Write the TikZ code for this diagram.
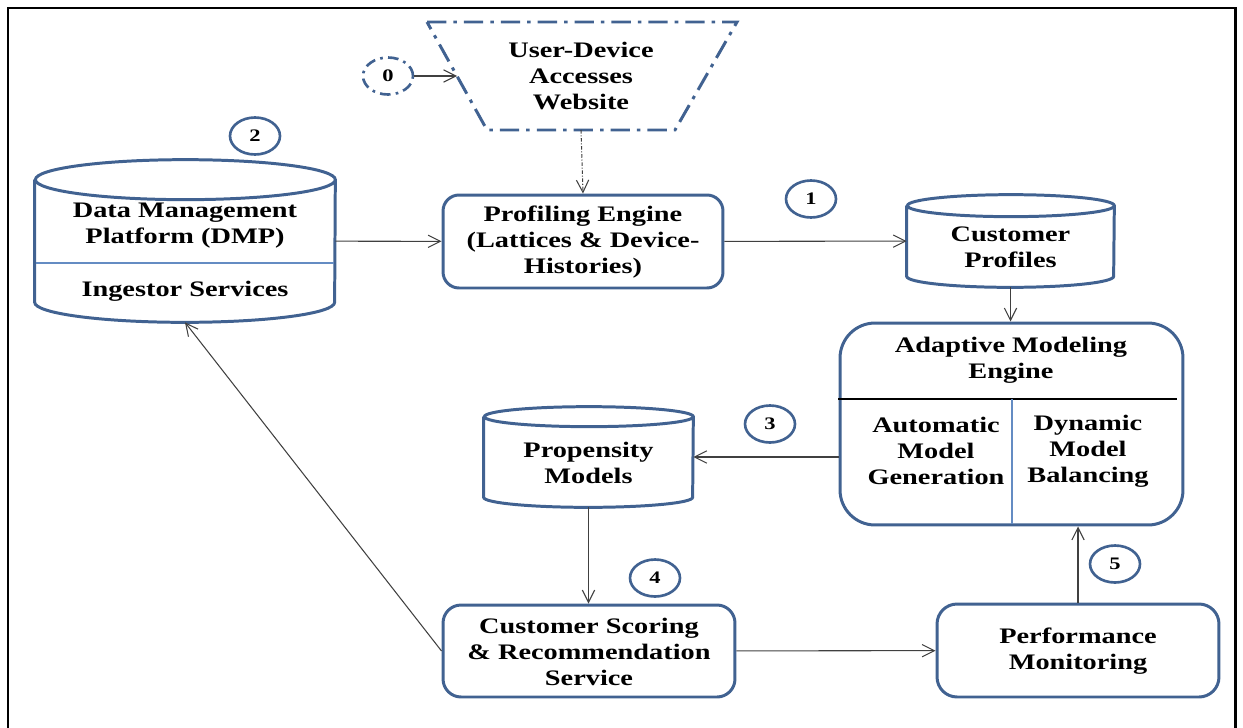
\documentclass[tikz,border=0pt]{standalone}
\usepackage{fontspec}
\setmainfont[FakeStretch=1.28]{Liberation Serif}
\usetikzlibrary{shapes.geometric,arrows.meta,positioning}

\definecolor{boxblue}{RGB}{65,98,145}
\definecolor{lineblue}{RGB}{100,140,195}

\tikzset{
  txt/.style={align=center, inner sep=0pt, font=\fontsize{12.6}{14.8}\selectfont\bfseries},
  box/.style={draw=boxblue, line width=1.7pt, rounded corners=0.32cm},
  store/.style={rectangle, inner sep=0pt},
  drumline/.style={draw=boxblue, line width=1.7pt},
  num/.style={ellipse, draw=boxblue, line width=1.5pt, minimum width=1cm, minimum height=0.74cm,
    inner sep=0pt, font=\fontsize{10}{12}\selectfont\bfseries},
  flow/.style={-{Straight Barb[length=7pt,width=7pt]}, draw=black!75, line width=0.6pt},
  dashdot/.style={dash pattern=on 11pt off 4pt on 2pt off 4pt}
}

% cylinder outline round a store node: name, y radius, x radius
\newcommand\drum[3]{%
  \draw[drumline] ([yshift=-#2]#1.north west) -- ([yshift=#2]#1.south west)
    arc[start angle=180, end angle=360, x radius=#3, y radius=#2]
    -- ([yshift=-#2]#1.north east)
    arc[start angle=0, end angle=360, x radius=#3, y radius=#2];
}

\begin{document}
\begin{tikzpicture}[x=0.02cm, y=-0.02cm]
    \useasboundingbox (0,0) rectangle (1243,727);
    % outer frame
    \draw[line width=1.7pt] (8,740) -- (8,8) -- (1235,8) -- (1235,740);

    % website access
    \draw[dashdot, draw=boxblue, line width=1.7pt] (427,22) -- (737,22) -- (675,130) -- (487,130) -- cycle;
    \node[txt] (web) at (581,76) {User-Device\\Accesses\\Website};
    \coordinate (webleft) at (457,76);
    \coordinate (webbot) at (581,130);
    \node[num, dash pattern=on 6pt off 3pt on 1.5pt off 3pt] (n0) at (388,76) {0};

    % engines and stores
    \node[box, minimum width=5.6cm, minimum height=1.86cm] (prof) at (583,241.5) {};
    \node[txt] (proftxt) at (583,242) {Profiling Engine\\(Lattices \& Device-\\Histories)};

    \node[store, minimum width=6cm, minimum height=3.24cm] (dmp) at (185,241) {};
    \drum{dmp}{0.4cm}{3cm}
    \node[txt] (dmptop) at (185,226) {Data Management\\Platform (DMP)};
    \node[txt] (dmpbot) at (185,291) {Ingestor Services};
    \draw[lineblue, line width=0.6pt] (36,263) -- (334,263);

    \node[store, minimum width=4.14cm, minimum height=1.84cm] (cprof) at (1010.5,241) {};
    \drum{cprof}{0.22cm}{2.07cm}
    \node[txt] (cproftxt) at (1010.5,247) {Customer\\Profiles};

    \node[box, rounded corners=0.7cm, minimum width=6.86cm, minimum height=4.04cm] (adapt) at (1011.5,424) {};
    \node[txt] (amtitle) at (1011,360) {Adaptive Modeling\\Engine};
    \node[txt] (amleft) at (936,451) {Automatic\\Model\\Generation};
    \node[txt] (amright) at (1088,451) {Dynamic\\Model\\Balancing};
    \draw[black, line width=1pt] (838,399) -- (1177,399);
    \draw[lineblue, line width=0.6pt] (1012,399) -- (1012,524);

    \node[store, minimum width=4.18cm, minimum height=2cm] (prop) at (588.5,457) {};
    \drum{prop}{0.2cm}{2.09cm}
    \node[txt] (proptxt) at (588.5,463) {Propensity\\Models};

    \node[box, rounded corners=0.36cm, minimum width=5.84cm, minimum height=1.84cm] (score) at (589,651) {};
    \node[txt] (scoretxt) at (589,652) {Customer Scoring\\\& Recommendation\\Service};

    \node[box, rounded corners=0.4cm, minimum width=5.64cm, minimum height=1.86cm] (perf) at (1078,650.5) {};
    \node[txt] (perftxt) at (1078,651) {Performance\\Monitoring};

    % step numbers
    \node[num] (n1) at (811,199) {1};
    \node[num] (n2) at (255,136) {2};
    \node[num] (n3) at (770,424) {3};
    \node[num] (n4) at (655,578) {4};
    \node[num] (n5) at (1115,564) {5};

    % connectors
    \draw[flow] (n0) -- (webleft);
    \draw[flow, dash pattern=on 2pt off 1pt on 0.6pt off 1pt] (webbot) -- (prof.north);
    \draw[flow] (dmp) -- (prof);
    \draw[flow] (prof) -- (cprof);
    \draw[flow] (cprof.south) -- (cprof.south |- adapt.north);
    \draw[flow] (adapt.west |- prop) -- (prop.east);
    \draw[flow] (prop.south) -- (prop.south |- score.north);
    \draw[flow] (score) -- (perf);
    \draw[flow] (perf.north) -- (perf.north |- adapt.south);
    \draw[flow] (score.west) -- (dmp.south);
\end{tikzpicture}
\end{document}
